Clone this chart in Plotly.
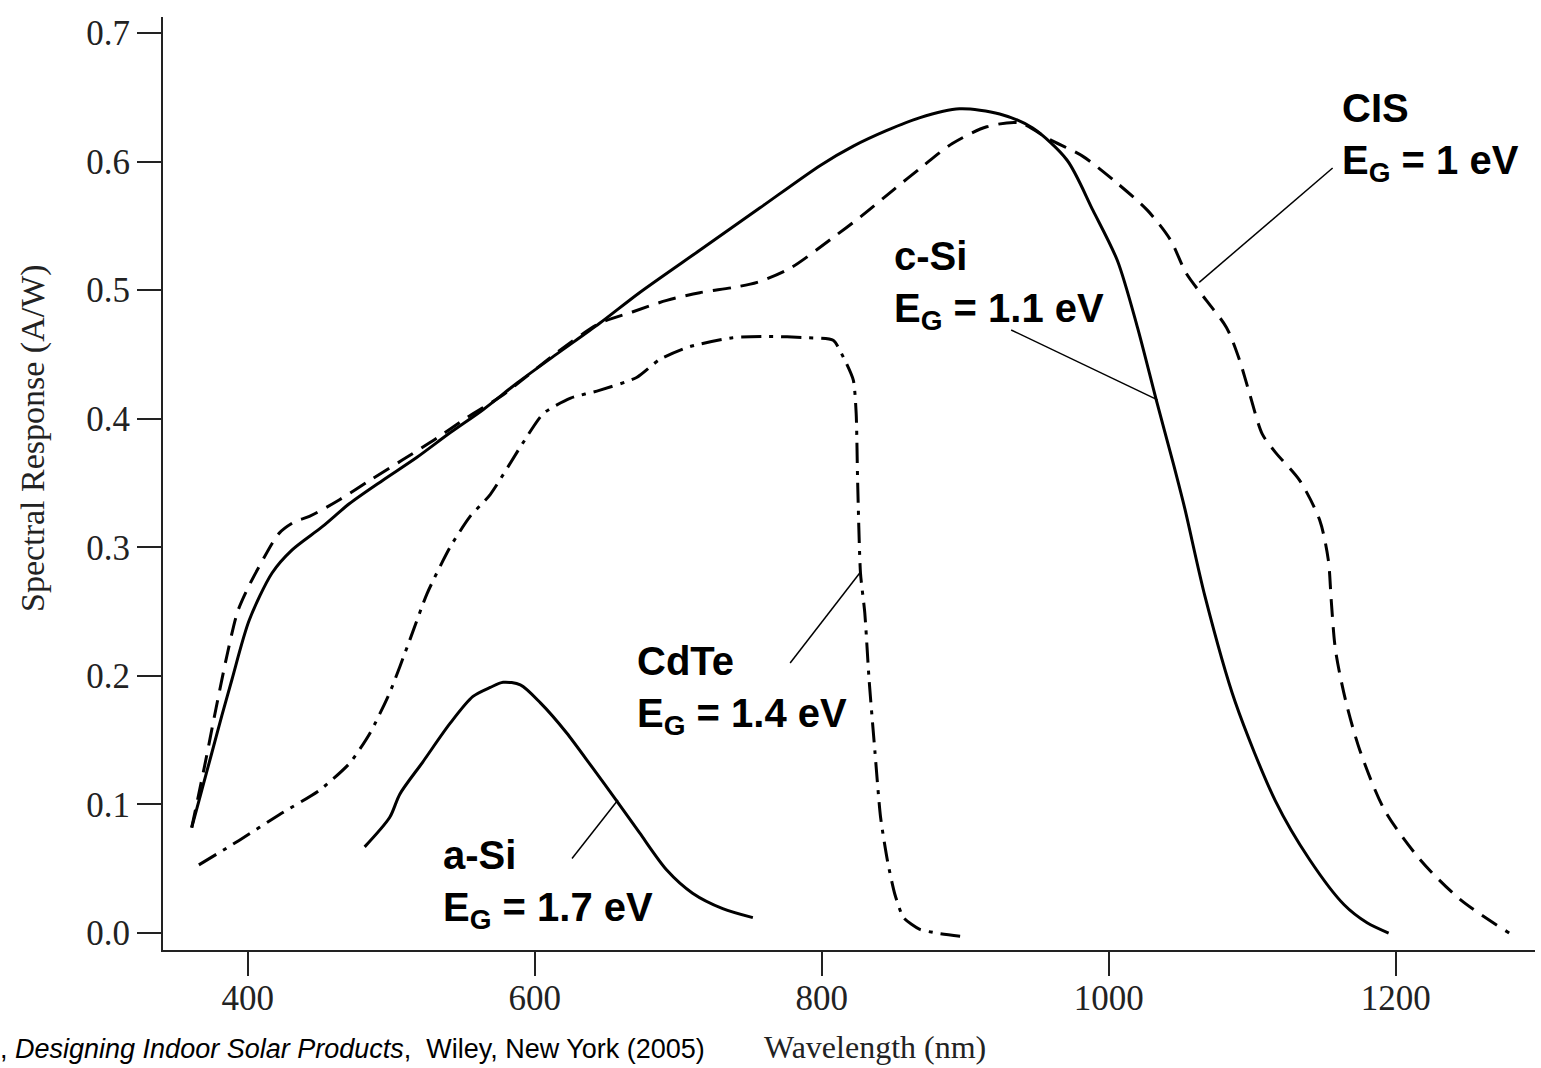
import plotly.graph_objects as go

# ---- data ----
csi_nm = [361, 368, 375, 382, 389, 401, 417, 431, 452, 471, 494, 518, 541, 564, 588, 615, 645, 673, 715, 757, 799, 822, 845, 868, 896, 924, 947, 971, 989, 1006, 1020, 1033, 1045, 1053, 1067, 1088, 1116, 1140, 1164, 1180, 1195]
csi_v = [0.082, 0.111, 0.140, 0.169, 0.197, 0.243, 0.280, 0.298, 0.316, 0.334, 0.352, 0.370, 0.389, 0.407, 0.428, 0.450, 0.474, 0.498, 0.531, 0.564, 0.597, 0.612, 0.624, 0.634, 0.641, 0.637, 0.626, 0.601, 0.562, 0.523, 0.471, 0.415, 0.365, 0.330, 0.262, 0.180, 0.103, 0.057, 0.022, 0.008, 0.0]

cis_nm = [361, 370, 378, 386, 393, 400, 408, 422, 433, 443, 464, 485, 508, 532, 553, 576, 615, 645, 668, 692, 715, 738, 755, 778, 808, 827, 850, 870, 891, 915, 938, 959, 982, 1006, 1027, 1043, 1054, 1068, 1082, 1091, 1098, 1107, 1116, 1133, 1147, 1153, 1155, 1158, 1165, 1175, 1192, 1217, 1245, 1279]
cis_v = [0.082, 0.130, 0.175, 0.218, 0.250, 0.268, 0.285, 0.311, 0.320, 0.324, 0.337, 0.352, 0.368, 0.385, 0.401, 0.417, 0.451, 0.474, 0.483, 0.492, 0.498, 0.502, 0.506, 0.517, 0.541, 0.557, 0.578, 0.596, 0.614, 0.627, 0.630, 0.617, 0.604, 0.583, 0.562, 0.539, 0.513, 0.492, 0.471, 0.446, 0.420, 0.388, 0.374, 0.352, 0.321, 0.290, 0.259, 0.220, 0.181, 0.142, 0.096, 0.057, 0.026, 0.0]

cdte_nm = [366, 394, 422, 450, 471, 485, 499, 513, 525, 541, 555, 569, 590, 606, 625, 645, 671, 687, 708, 738, 762, 790, 808, 815, 822, 824, 825, 827, 830, 833, 837, 841, 846, 851, 857, 868, 880, 900]
cdte_v = [0.053, 0.072, 0.092, 0.111, 0.132, 0.155, 0.187, 0.228, 0.264, 0.300, 0.324, 0.341, 0.378, 0.404, 0.416, 0.422, 0.432, 0.446, 0.456, 0.463, 0.464, 0.463, 0.461, 0.448, 0.430, 0.404, 0.352, 0.280, 0.249, 0.197, 0.142, 0.090, 0.055, 0.030, 0.012, 0.003, 0.0, -0.003]

asi_nm = [481.5, 499, 506, 522, 541, 557, 569, 578, 590, 604, 622, 640, 657, 673, 692, 710, 731, 752]
asi_v = [0.067, 0.090, 0.108, 0.133, 0.163, 0.184, 0.191, 0.195, 0.193, 0.179, 0.156, 0.129, 0.103, 0.078, 0.049, 0.031, 0.019, 0.012]

x_ticks = [400, 600, 800, 1000, 1200]
y_ticks = [0.0, 0.1, 0.2, 0.3, 0.4, 0.5, 0.6, 0.7]
y_ticktext = ["0.0", "0.1", "0.2", "0.3", "0.4", "0.5", "0.6", "0.7"]

labels = ["<b>CIS<br>E<sub>G</sub> = 1 eV</b>", "<b>c-Si<br>E<sub>G</sub> = 1.1 eV</b>",
          "<b>CdTe<br>E<sub>G</sub> = 1.4 eV</b>", "<b>a-Si<br>E<sub>G</sub> = 1.7 eV</b>"]
label_x = [1161, 849, 670, 535]
label_y = [0.619, 0.504, 0.189, 0.038]
# leader lines: (x0, y0) text end -> (x1, y1) on curve
lead_x0 = [1156, 932, 778, 626]
lead_y0 = [0.595, 0.469, 0.210, 0.058]
lead_x1 = [1063, 1034, 826.5, 658]
lead_y1 = [0.506, 0.4146, 0.280, 0.1034]

fig = go.Figure()
common = dict(mode="lines", line_shape="spline", showlegend=False, hoverinfo="skip")
fig.add_trace(go.Scatter(x=csi_nm, y=csi_v, line=dict(color="black", width=3, smoothing=0.8), **common))
fig.add_trace(go.Scatter(x=cis_nm, y=cis_v, line=dict(color="black", width=3, dash="18px,10px", smoothing=0.8), **common))
fig.add_trace(go.Scatter(x=cdte_nm, y=cdte_v, line=dict(color="black", width=3, dash="20px,8px,4px,8px", smoothing=0.6), **common))
fig.add_trace(go.Scatter(x=asi_nm, y=asi_v, line=dict(color="black", width=3, smoothing=0.8), **common))

for i in range(len(labels)):
    fig.add_annotation(x=label_x[i], y=label_y[i], xref="x", yref="y", text=labels[i],
                       showarrow=False, xanchor="left", yanchor="middle", align="left",
                       font=dict(family="Liberation Sans, Arial", size=40, color="black"))
    fig.add_shape(type="line", xref="x", yref="y", x0=lead_x0[i], y0=lead_y0[i],
                  x1=lead_x1[i], y1=lead_y1[i], line=dict(color="black", width=1.5))

# axis titles and source text
fig.add_annotation(x=-0.0948, y=0.5488, xref="paper", yref="paper", text="Spectral Response (A/W)",
                   textangle=-90, showarrow=False, xanchor="center", yanchor="middle",
                   font=dict(family="Liberation Serif, Times New Roman", size=34, color="#222"))
fig.add_annotation(x=0.519, y=-0.104, xref="paper", yref="paper", text="Wavelength (nm)",
                   showarrow=False, xanchor="center", yanchor="middle",
                   font=dict(family="Liberation Serif, Times New Roman", size=32, color="#222"))
fig.add_annotation(x=0.3965, y=-0.1065, xref="paper", yref="paper",
                   text=", <i>Designing Indoor Solar Products</i>,  Wiley, New York (2005)",
                   showarrow=False, xanchor="right", yanchor="middle",
                   font=dict(family="Liberation Sans, Arial", size=27, color="black"))

axis_font = dict(family="Liberation Serif, Times New Roman", size=35, color="#222")
fig.update_xaxes(range=[341, 1297], tickvals=x_ticks, ticktext=[str(t) for t in x_ticks],
                 showline=True, linecolor="#222", linewidth=2, ticks="outside", ticklen=24,
                 tickwidth=2, tickcolor="#222", showgrid=False, zeroline=False, tickfont=axis_font,
                 ticklabelstandoff=-8)
fig.update_yaxes(range=[-0.0132, 0.7124], tickvals=y_ticks, ticktext=y_ticktext,
                 showline=True, linecolor="#222", linewidth=2, ticks="outside", ticklen=24,
                 tickwidth=2, tickcolor="#222", showgrid=False, zeroline=False, tickfont=axis_font)
fig.update_layout(width=1541, height=1068, margin=dict(l=163, r=6, t=17, b=118),
                  plot_bgcolor="white", paper_bgcolor="white")
fig.write_html("out.html")
